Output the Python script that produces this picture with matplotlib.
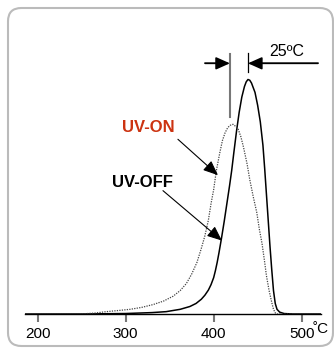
import matplotlib
matplotlib.use("Agg")
import matplotlib.pyplot as plt
from matplotlib.patches import FancyBboxPatch

plt.rcParams['font.family'] = ['Liberation Sans', 'DejaVu Sans']

# temperature (C) and normalised signal
uv_off_t = [185, 250, 300, 330, 346, 362, 373, 380, 386, 390, 394, 397, 400, 402, 404, 406, 409, 412,
            415, 418, 420.5, 423, 426, 429, 432, 435, 437, 439, 441, 443, 447, 450, 453, 456, 458,
            460, 462, 464, 466, 468, 470, 472, 475, 480, 490, 522]
uv_off_h = [0, 0, 0.002, 0.006, 0.01, 0.02, 0.032, 0.045, 0.063, 0.08, 0.102, 0.125, 0.155, 0.185, 0.22, 0.26, 0.325, 0.395,
            0.47, 0.545, 0.612, 0.69, 0.78, 0.86, 0.925, 0.97, 0.99, 1.0, 0.997, 0.985, 0.945, 0.89, 0.82, 0.72, 0.62,
            0.51, 0.40, 0.29, 0.19, 0.10, 0.045, 0.02, 0.008, 0.002, 0, 0]

uv_on_t = [185, 248, 265, 278, 292, 305, 318, 331, 343, 354, 362, 369, 375, 381, 386,
           390, 394, 397, 400, 403, 407, 410, 413, 416, 419, 422, 425, 428, 431, 434,
           438, 441, 445, 449, 452, 455, 458, 460, 463, 466, 468, 470, 472, 522]
uv_on_h = [0, 0, 0.004, 0.01, 0.015, 0.02, 0.028, 0.04, 0.055, 0.076, 0.10, 0.13, 0.17, 0.22, 0.28,
           0.333, 0.40, 0.47, 0.53, 0.61, 0.688, 0.74, 0.773, 0.795, 0.805, 0.809, 0.80, 0.787, 0.755, 0.71,
           0.64, 0.574, 0.50, 0.433, 0.36, 0.30, 0.22, 0.163, 0.10, 0.05, 0.02, 0.005, 0, 0]

xticks = [200, 300, 400, 500]
xtick_labels = ["200", "300", "400", "500"]

fig = plt.figure(figsize=(3.34, 3.49), dpi=100)

# rounded frame round the whole thing
box = FancyBboxPatch((8 / 334, 3 / 349), 325 / 334, 338 / 349,
                     boxstyle="round,pad=0,rounding_size=0.04",
                     transform=fig.transFigure, fc="none", ec="#bbbbbb", lw=1.5,
                     mutation_aspect=334 / 349, zorder=-1)
fig.patches.append(box)

ax = fig.add_axes([25 / 334, 35 / 349, 296 / 334, 294 / 349])
ax.patch.set_alpha(0)
ax.plot(uv_off_t, uv_off_h, color="black", lw=1.1)
ax.plot(uv_on_t, uv_on_h, color="#444444", lw=0.9, ls=(0, (1, 1)))

ax.set_xlim(185.6, 522)
ax.set_ylim(0, 294 / 234.5)
for s in ["top", "left", "right"]:
    ax.spines[s].set_visible(False)
ax.spines["bottom"].set_linewidth(1.0)
ax.set_yticks([])
ax.set_xticks(xticks)
ax.set_xticklabels(xtick_labels, fontsize=11)
ax.tick_params(axis="x", direction="out", length=6, width=1.5, color="#777777", pad=3)
ax.text(513, -0.036, "˚C", fontsize=11, ha="left", va="top")

# peak shift marker
ax.plot([418.5, 418.5], [0.838, 1.107], color="#777777", lw=1.5)
ax.plot([439, 439], [1.034, 1.115], color="black", lw=0.9)
ax.plot([390.3, 410], [1.069, 1.069], color="#888888", lw=1.2)
ax.annotate("", xy=(418.5, 1.069), xytext=(390.3, 1.069),
            arrowprops=dict(arrowstyle="-|>,head_length=0.85,head_width=0.38",
                            color="black", lw=1.2, shrinkA=0, shrinkB=0))
ax.plot([450, 518.5], [1.069, 1.069], color="#888888", lw=1.2)
ax.annotate("", xy=(439, 1.069), xytext=(518.5, 1.069),
            arrowprops=dict(arrowstyle="-|>,head_length=0.85,head_width=0.38",
                            color="black", lw=1.2, shrinkA=0, shrinkB=0))
ax.text(482.7, 1.12, "25ºC", fontsize=11.5, ha="center", va="center")

# curve labels
ax.annotate("", xy=(404.9, 0.592), xytext=(359.4, 0.745),
            arrowprops=dict(arrowstyle="-|>,head_length=0.9,head_width=0.38",
                            color="black", lw=0.8, shrinkA=0, shrinkB=0))
ax.text(325.3, 0.795, "UV-ON", fontsize=12, fontweight="bold", color="#cc3311",
        ha="center", va="center")
ax.annotate("", xy=(409.4, 0.313), xytext=(342.4, 0.526),
            arrowprops=dict(arrowstyle="-|>,head_length=0.9,head_width=0.38",
                            color="black", lw=0.8, shrinkA=0, shrinkB=0))
ax.text(318.5, 0.56, "UV-OFF", fontsize=12, fontweight="bold", color="black",
        ha="center", va="center")

fig.savefig("out.png", dpi=100)
